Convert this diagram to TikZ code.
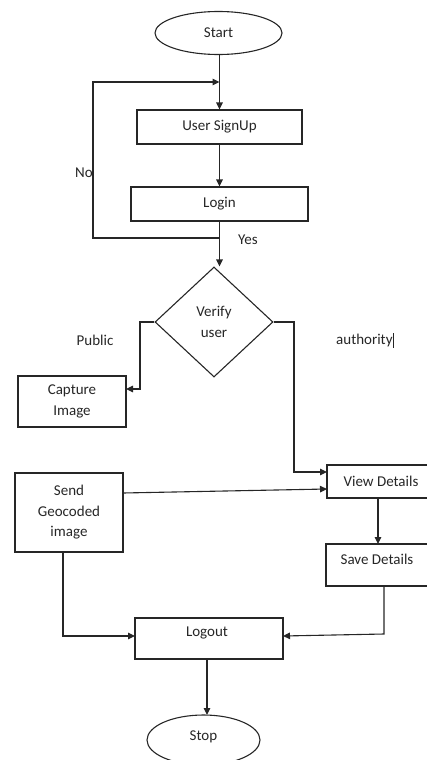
\documentclass[tikz,border=0pt]{standalone}
\usepackage{fontspec}
\setmainfont{Carlito}
\usetikzlibrary{shapes.geometric,arrows.meta,calc}
\begin{document}
\begin{tikzpicture}[x=1pt,y=-1pt,
  every node/.style={font=\fontsize{15}{20.5}\selectfont, text=black!85},
  box/.style={draw=black!85, line width=1.1pt, rectangle, inner sep=0pt, align=center},
  oval/.style={draw=black!85, line width=1.1pt, ellipse, inner sep=0pt},
  dia/.style={draw=black!85, line width=1.1pt, diamond, inner sep=0pt, align=center},
  arr/.style={draw=black!85, line width=1.1pt, -{Triangle[length=7pt,width=6.5pt]}},
  ln/.style={draw=black!85, line width=1.1pt},
  lbl/.style={inner sep=0pt}]
\useasboundingbox (0,0) rectangle (427,760);
% nodes
\node[oval, minimum width=127pt, minimum height=43pt] (start) at (218.5,33) {Start};
\node[box, minimum width=165pt, minimum height=34pt] (signup) at (219.5,127) {User SignUp};
\node[box, minimum width=177pt, minimum height=34pt] (login) at (219.5,204) {Login};
\node[dia, minimum width=118pt, minimum height=110pt] (verify) at (214,322) {Verify\\user};
\node[box, minimum width=108pt, minimum height=51pt] (capture) at (72,401.5) {Capture\\Image};
\node[box, minimum width=108pt, minimum height=33pt] (view) at (381,481.5) {View Details};
\node[box, minimum width=109pt, minimum height=42pt] (save) at (380.5,565) {};
\node[lbl] (savet) at (377,559) {Save Details};
\node[box, minimum width=108pt, minimum height=79pt] (send) at (69,512.5) {Send\\Geocoded\\image};
\node[box, minimum width=148pt, minimum height=41pt] (logout) at (209,638.5) {};
\node[lbl] (logoutt) at (207,633) {Logout};
\node[oval, minimum width=113pt, minimum height=50pt] (stop) at (203.5,740) {};
\node[lbl] (stopt) at (203.5,737) {Stop};
% labels
\node[lbl] (no) at (84,173) {No};
\node[lbl] (yes) at (248,240) {Yes};
\node[lbl] (public) at (95,340) {Public};
\node[lbl, anchor=west] (auth) at (336,340) {authority\kern0.5pt\rule[-3pt]{0.8pt}{15pt}};
% coordinates
\coordinate (loopin) at (219.5,82);
\coordinate (jn) at (219.5,238);
\coordinate (lx) at (93,238);
\coordinate (ly) at (93,82);
\coordinate (capin) at (126,389);
\coordinate (pl) at (140,322);
\coordinate (pr) at (294,322);
\coordinate (viewin) at (327,472);
\coordinate (viewin2) at (327,489);
\coordinate (sendout) at (123,493);
\coordinate (vs) at (378,498);
\coordinate (sn) at (378,544);
\coordinate (ss) at (384,586);
\coordinate (sc) at (384,634);
\coordinate (lgr) at (283,636);
\coordinate (lgl) at (135,636);
\coordinate (sb) at (63,552);
\coordinate (lgs) at (207,659);
\coordinate (stn) at (207,715);
% connectors
\draw[arr] (start.south -| loopin) -- (signup.north -| loopin);
\draw[arr] (jn) -- (lx) -- (ly) -- (loopin);
\draw[arr] (signup) -- (login);
\draw[arr] (login.south) -- (verify.north -| login.south);
\draw[arr] (verify.west) -- (pl) -- (pl |- capin) -- (capin);
\draw[arr] (verify.east) -- (pr) -- (pr |- viewin) -- (viewin);
\draw[arr] (sendout) -- (viewin2);
\draw[arr] (vs) -- (sn);
\draw[arr] (ss) -- (sc) -- (lgr);
\draw[arr] (sb) -- (sb |- lgl) -- (lgl);
\draw[arr] (lgs) -- (stn);
\end{tikzpicture}
\end{document}
